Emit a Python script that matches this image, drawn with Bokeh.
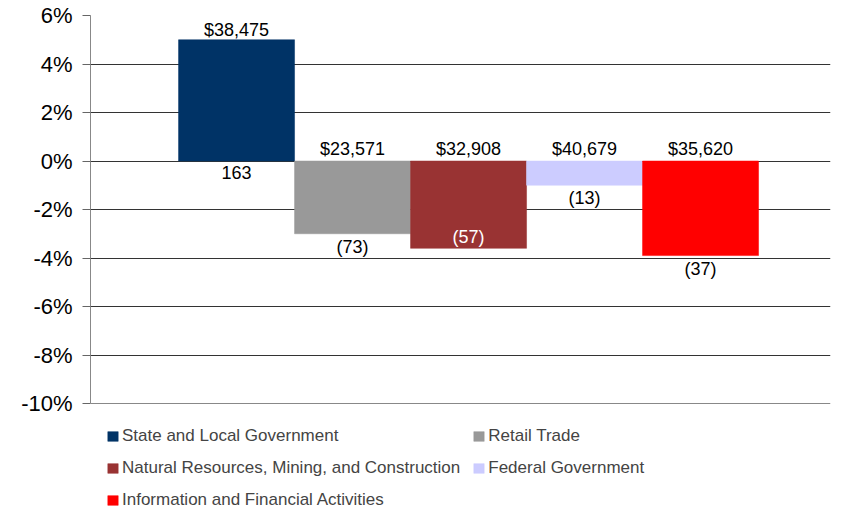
import numpy as np
from bokeh.plotting import figure
from bokeh.models import Range1d, Legend, LegendItem, PrintfTickFormatter, FixedTicker, Span
from bokeh.core.properties import value
from bokeh.embed import file_html
from bokeh.resources import INLINE

# ---- data ----
categories = [
    "State and Local Government",
    "Retail Trade",
    "Natural Resources, Mining, and Construction",
    "Federal Government",
    "Information and Financial Activities",
]
pct_change = [5.0, -3.0, -3.6, -1.0, -3.9]
avg_wage_labels = ["$38,475", "$23,571", "$32,908", "$40,679", "$35,620"]
job_change_labels = ["163", "(73)", "(57)", "(13)", "(37)"]
job_label_inside = [False, False, True, False, False]
bar_colors = ["#003366", "#999999", "#993333", "#CCCCFF", "#FF0000"]
y_ticks = [-10, -8, -6, -4, -2, 0, 2, 4, 6]
y_min, y_max = -10, 6

FONT = "Liberation Sans"

W, H = 840, 510
TOP, LEFT, RIGHT = 15, 90, 10
PLOT_PX = 388                      # pixels for the 16-unit value axis
LEGEND_AREA = H - TOP - PLOT_PX    # space below the value axis for the legend
PX_PER_UNIT = PLOT_PX / (y_max - y_min)
y_bottom_ext = y_min - LEGEND_AREA / PX_PER_UNIT

p = figure(width=W, height=H, output_backend="svg", toolbar_location=None,
           x_range=Range1d(0, 740 / 116), y_range=Range1d(y_bottom_ext, y_max),
           min_border_left=LEFT, min_border_right=RIGHT, min_border_top=TOP, min_border_bottom=0)
p.outline_line_color = None
p.background_fill_color = "white"

idx = np.arange(len(categories))
xs = idx + 0.759 + 0.5

items = []
for i, cat in enumerate(categories):
    v = pct_change[i]
    r = p.vbar(x=[xs[i]], top=[max(v, 0)], bottom=[min(v, 0)], width=1.0,
               fill_color=bar_colors[i], line_color=bar_colors[i], line_width=0.5)
    items.append(LegendItem(label=cat, renderers=[r]))

# top labels (average wage)
top_y = [max(v, 0) for v in pct_change]
top_off = [0 if v > 0 else -2 for v in pct_change]
p.text(x=xs, y=top_y, text=avg_wage_labels, text_align="center", text_baseline="bottom",
       y_offset=top_off, text_font=value(FONT), text_font_size="18px", text_color="black")

# bottom labels (job change)
sel_out = [i for i in range(5) if not job_label_inside[i]]
out_x = [xs[i] for i in sel_out]
out_y = [min(pct_change[i], 0) for i in sel_out]
out_t = [job_change_labels[i] for i in sel_out]
out_off = [5 if pct_change[i] > 0 else 3 for i in sel_out]
p.text(x=out_x, y=out_y, text=out_t, text_align="center", text_baseline="top",
       y_offset=out_off, text_font=value(FONT), text_font_size="18px", text_color="black")
sel_in = [i for i in range(5) if job_label_inside[i]]
in_x = [xs[i] for i in sel_in]
in_y = [pct_change[i] for i in sel_in]
in_t = [job_change_labels[i] for i in sel_in]
p.text(x=in_x, y=in_y, text=in_t, text_align="center", text_baseline="bottom",
       y_offset=-1, text_font=value(FONT), text_font_size="18px", text_color="white")

# axes
p.yaxis.ticker = FixedTicker(ticks=y_ticks)
p.yaxis.bounds = (y_min, y_max)
p.yaxis.formatter = PrintfTickFormatter(format="%d%%")
p.yaxis.major_label_text_font = FONT
p.yaxis.major_label_text_font_size = "22px"
p.yaxis.major_label_text_color = "black"
p.yaxis.major_tick_out = 8
p.yaxis.major_tick_in = 0
p.yaxis.minor_tick_out = 0
p.yaxis.minor_tick_in = 0
p.yaxis.major_label_standoff = 10
p.yaxis.axis_line_color = "#888888"
p.yaxis.major_tick_line_color = "#666666"

p.xaxis.visible = False
p.add_layout(Span(location=y_min, dimension="width", line_color="#888888", line_width=1))

p.xgrid.visible = False
p.ygrid.ticker = FixedTicker(ticks=y_ticks[1:])
p.ygrid.grid_line_color = "#333333"
p.ygrid.grid_line_width = 1

legend = Legend(items=items, orientation="horizontal", ncols=2, location=(16, 0),
                label_text_font=FONT, label_text_font_size="17px",
                glyph_width=13, glyph_height=12, label_standoff=3, label_height=18,
                spacing=12, padding=0, margin=0, border_line_color=None,
                background_fill_alpha=0)
p.add_layout(legend, "center")

open("out.html", "w").write(file_html(p, INLINE))
